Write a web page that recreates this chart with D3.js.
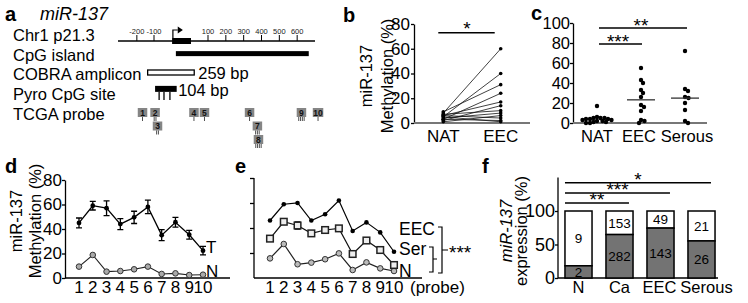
<!DOCTYPE html>
<html><head><meta charset="utf-8">
<script src="https://cdn.jsdelivr.net/npm/d3@7"></script>
<style>body{margin:0;background:#fff}svg{display:block;font-family:"Liberation Sans",Arial,Helvetica,sans-serif}</style>
</head><body><svg id="c" width="748" height="303"></svg>
<script>
// ---------- DATA ----------
// panel a
const aRows = ["Chr1 p21.3","CpG island","COBRA amplicon","Pyro CpG site","TCGA probe"];
const aTicks = [-200,-100,100,200,300,400,500,600];
const chrSpan = [-310, 700];
const exonSpan = [-33, 37];
const tssPos = [-30, 7];
const cpgIsland = [-19, 665];
const cobraAmp = [-137, 49];
const cobraLabel = "259 bp";
const pyroSpan = [-96, -16];
const pyroSites = [-81, -63, -41];
const pyroLabel = "104 bp";
const probeIds = ["1","2","3","4","5","6","7","8","9","10"];
const probePos = [-167,-96,-87,48,87,333,377,383,624,717];
const probeRow = [0,0,1,0,0,0,1,2,0,0];
const probeLines = [1,2,2,1,1,1,3,4,4,1];
// panel b (paired NAT vs EEC)
const bCats = ["NAT","EEC"];
const bNAT = [8,5,9,3,6,2,7,4,1,6,3,5];
const bEEC = [60,40,31,24,17,14,10,8,6,4,2,1];
const bTicks = [0,20,40,60,80];
// panel c
const cCats = ["NAT","EEC","Serous"];
const cNAT = [17,6,5,5,5,4,4,4,3,3,2,2,1,1,0,0];
const cEEC = [55,43,40,33,30,26,18,16,12,3,2,0];
const cSer = [72,34,32,26,25,20,13,2,0];
const cTicks = [0,20,40,60,80,100];
// panel d
const probes = [1,2,3,4,5,6,7,8,9,10];
const dT = [45,59,57,44,49.5,58,35,45.5,35.3,22.3];
const dTerr = [4,3.5,6,4.5,5,5.5,4.5,4,3.5,3.5];
const dN = [9.3,18.8,5.2,5.7,7.1,9.3,3.3,3.8,2.4,2.7];
const dTicks = [0,20,40,60,80];
// panel e
const eEEC = [46,59,60,46,51,62,37.6,44.5,36.5,21];
const eSer = [31.5,45,42,35.7,38.4,39.7,19.2,30,22.4,10.4];
const eSerErr = [0,1.5,3,1,1,1.5,0,0,0,0];
const eN = [15.7,27.2,11,12.3,15,19.7,6.4,12.5,7.7,5.6];
// panel f
const fCats = ["N","Ca","EEC","Serous"];
const fLow = [2,282,143,26];
const fHigh = [9,153,49,21];
const fTicks = [0,50,100];

// ---------- DRAW ----------
const svg = d3.select("#c");
const AX = 16.5;

function label(t,x,y){ svg.append("text").attr("x",x).attr("y",y).attr("font-weight","bold").attr("font-size",20).text(t); }
function styleAxis(g, fs){
  g.selectAll("text").attr("font-size",fs).attr("fill","#000").attr("font-family",'"Liberation Sans",Arial,sans-serif');
  g.selectAll("path,line").attr("stroke","#000").attr("stroke-width",1.3);
}
function vlabel(lines, cy){
  lines.forEach(l=>{
    svg.append("text").attr("transform",`translate(${l.x},${cy}) rotate(-90)`)
      .attr("text-anchor","middle").attr("font-size",l.fs||AX).attr("font-style",l.italic?"italic":null).text(l.t);
  });
}
function stars(t,x,y){ svg.append("text").attr("x",x).attr("y",y).attr("text-anchor","middle").attr("font-size",19).text(t); }

// ===== panel a =====
label("a",5,21);
svg.append("text").attr("x",40).attr("y",20).attr("font-size",18).attr("font-style","italic").text("miR-137");
const xA = d3.scaleLinear().domain([-310,-100,100,700]).range([118,154,208,315]);
const rowY = d3.scalePoint().domain(aRows).range([41,119.5]);
svg.append("g").selectAll("text").data(aRows).join("text")
  .attr("x",13).attr("y",d=>rowY(d)).attr("font-size",16.5).text(d=>d);
const ga = svg.append("g");
const yChr = rowY(aRows[0]);
ga.append("line").attr("x1",xA(chrSpan[0])).attr("x2",xA(chrSpan[1])).attr("y1",yChr).attr("y2",yChr).attr("stroke","#000").attr("stroke-width",1.5);
ga.selectAll(".tk").data(aTicks).join("line").attr("x1",d=>xA(d)).attr("x2",d=>xA(d)).attr("y1",yChr-6).attr("y2",yChr).attr("stroke","#000").attr("stroke-width",1);
ga.selectAll(".tl").data(aTicks).join("text").attr("x",d=>xA(d)).attr("y",yChr-7).attr("text-anchor","middle").attr("font-size",7.5).attr("fill","#222").text(d=>d);
ga.append("rect").attr("x",xA(exonSpan[0])).attr("width",xA(exonSpan[1])-xA(exonSpan[0])).attr("y",yChr-3).attr("height",6).attr("fill","#000");
ga.append("path").attr("d",`M${xA(tssPos[0])},${yChr-3}V${yChr-11}H${xA(-12)}`).attr("stroke","#000").attr("fill","none").attr("stroke-width",1.2);
ga.append("path").attr("d",`M${xA(-12)},${yChr-14.5}L${xA(tssPos[1])},${yChr-11}L${xA(-12)},${yChr-7.5}Z`).attr("fill","#000");
const yCpg = rowY(aRows[1]) - 7;
ga.append("rect").attr("x",xA(cpgIsland[0])).attr("width",xA(cpgIsland[1])-xA(cpgIsland[0])).attr("y",yCpg-2.5).attr("height",5).attr("fill","#000");
const yCob = rowY(aRows[2]) - 7.75;
ga.append("rect").attr("x",xA(cobraAmp[0])).attr("width",xA(cobraAmp[1])-xA(cobraAmp[0])).attr("y",yCob-2.5).attr("height",5).attr("fill","#fff").attr("stroke","#000").attr("stroke-width",1.3);
ga.append("text").attr("x",xA(cobraAmp[1])+4).attr("y",rowY(aRows[2])-1.5).attr("font-size",16.5).text(cobraLabel);
const yPy = rowY(aRows[3]) - 11;
ga.append("rect").attr("x",xA(pyroSpan[0])).attr("width",xA(pyroSpan[1])-xA(pyroSpan[0])).attr("y",yPy-3).attr("height",6).attr("fill","#000");
ga.selectAll(".ps").data(pyroSites).join("line").attr("x1",d=>xA(d)).attr("x2",d=>xA(d)).attr("y1",yPy+3).attr("y2",yPy+11).attr("stroke","#000").attr("stroke-width",1.3);
ga.append("text").attr("x",xA(pyroSpan[1])+1.5).attr("y",rowY(aRows[3])-3.4).attr("font-size",16.5).text(pyroLabel);
const yPr = rowY(aRows[4]) - 11.5;
probeIds.forEach((id,i)=>{
  const cx = xA(probePos[i]), y0 = yPr + probeRow[i]*13.5, w = id.length>1?10.5:9.5;
  ga.append("rect").attr("x",cx-w/2).attr("y",y0).attr("width",w).attr("height",9).attr("fill","#858585");
  ga.append("text").attr("x",cx).attr("y",y0+7.8).attr("text-anchor","middle").attr("font-size",8.5).attr("font-weight","bold").attr("fill","#111").text(id);
  const n = probeLines[i];
  for(let k=0;k<n;k++){
    const lx = cx - (n-1)*0.9 + k*1.8;
    ga.append("line").attr("x1",lx).attr("x2",lx).attr("y1",y0+9).attr("y2",y0+13).attr("stroke","#222").attr("stroke-width",0.8);
  }
});

// ===== panel b =====
label("b",343,22);
const yB = d3.scaleLinear().domain([0,80]).range([123,24]);
const xB = d3.scalePoint().domain(bCats).range([414,530]).padding(0.51);
const gbA = svg.append("g").attr("transform","translate(414,0)").call(d3.axisLeft(yB).tickValues(bTicks).tickSize(3).tickSizeOuter(0).tickPadding(1));
styleAxis(gbA, AX+0.5);
svg.append("line").attr("x1",414).attr("x2",530).attr("y1",yB(0)).attr("y2",yB(0)).attr("stroke","#777").attr("stroke-width",1.8);
svg.selectAll(".bx").data(bCats).join("text").attr("x",d=>xB(d)).attr("y",142).attr("text-anchor","middle").attr("font-size",AX+0.5).text(d=>d);
vlabel([{t:"miR-137",x:372},{t:"Methylation (%)",x:393}],76);
const gb = svg.append("g");
bNAT.forEach((v,i)=>{
  gb.append("line").attr("x1",xB("NAT")).attr("y1",yB(v)).attr("x2",xB("EEC")).attr("y2",yB(bEEC[i])).attr("stroke","#111").attr("stroke-width",0.8);
});
gb.selectAll(".pn").data(bNAT).join("circle").attr("cx",xB("NAT")).attr("cy",d=>yB(d)).attr("r",1.8).attr("fill","#000");
gb.selectAll(".pe").data(bEEC).join("circle").attr("cx",xB("EEC")).attr("cy",d=>yB(d)).attr("r",1.8).attr("fill","#000");
svg.append("line").attr("x1",xB("NAT")-5).attr("x2",xB("EEC")-6).attr("y1",yB(73)).attr("y2",yB(73)).attr("stroke","#000").attr("stroke-width",1.5);
stars("*",(xB("NAT")+xB("EEC"))/2-5,yB(73)+2);

// ===== panel c =====
label("c",531,20);
const yC = d3.scaleLinear().domain([0,100]).range([123,23]);
const xC = d3.scalePoint().domain(cCats).range([573,709]).padding(0.545);
const gcA = svg.append("g").attr("transform","translate(573,0)").call(d3.axisLeft(yC).tickValues(cTicks).tickSize(3).tickSizeOuter(0).tickPadding(0));
styleAxis(gcA, AX);
svg.append("line").attr("x1",573).attr("x2",707).attr("y1",yC(0)).attr("y2",yC(0)).attr("stroke","#777").attr("stroke-width",1.8);
svg.selectAll(".cx").data(cCats).join("text").attr("x",(d,i)=>xC(d)+[0,-2,2][i]).attr("y",142).attr("text-anchor","middle").attr("font-size",AX).text(d=>d);
function swarm(vals, cx, r, minD){
  const placed=[], out=[];
  vals.forEach(v=>{
    const y=yC(v); let off=0;
    for(let k=0;k<200;k++){
      const o = (k%2?1:-1)*Math.ceil(k/2)*0.5;
      if(placed.every(p=>Math.hypot(p.x-o,p.y-y)>=minD)){off=o;break;}
    }
    placed.push({x:off,y}); out.push({x:cx+off,y});
  });
  return out;
}
[[cNAT,"NAT"],[cEEC,"EEC"],[cSer,"Serous"]].forEach(([vals,c])=>{
  const pts = swarm(vals,xC(c),2.2,3.6);
  svg.append("g").selectAll("circle").data(pts).join("circle").attr("cx",d=>d.x).attr("cy",d=>d.y).attr("r",2.2).attr("fill","#000");
  if(c!=="NAT"){
    const m = d3.mean(vals);
    svg.append("line").attr("x1",xC(c)-14).attr("x2",xC(c)+14).attr("y1",yC(m)).attr("y2",yC(m)).attr("stroke","#333").attr("stroke-width",1.3);
  }
});
svg.append("line").attr("x1",xC("NAT")+2).attr("x2",xC("Serous")+2).attr("y1",yC(95)).attr("y2",yC(95)).attr("stroke","#000").attr("stroke-width",1.5);
stars("**",(xC("NAT")+xC("Serous"))/2,yC(95)+4);
svg.append("line").attr("x1",xC("NAT")+2).attr("x2",xC("EEC")+1).attr("y1",yC(79)).attr("y2",yC(79)).attr("stroke","#000").attr("stroke-width",1.5);
stars("***",(xC("NAT")+xC("EEC"))/2-1,yC(79)+4);

// ===== panel d =====
label("d",5,173);
const yD = d3.scaleLinear().domain([0,80]).range([278,180]);
const xD = d3.scaleLinear().domain([1,10]).range([79,203]);
const gdA = svg.append("g").attr("transform","translate(65,0)").call(d3.axisLeft(yD).tickValues(dTicks).tickSize(3).tickSizeOuter(0).tickPadding(0));
styleAxis(gdA, AX+0.5);
svg.append("line").attr("x1",65).attr("x2",230).attr("y1",yD(0)).attr("y2",yD(0)).attr("stroke","#000").attr("stroke-width",1.3);
svg.selectAll(".dx").data(probes).join("text").attr("x",d=>xD(d)).attr("y",293).attr("text-anchor","middle").attr("font-size",AX+0.5).text(d=>d);
vlabel([{t:"miR-137",x:22},{t:"Methylation (%)",x:41}],221);
const ln = d3.line();
svg.append("path").attr("d",ln(probes.map((p,i)=>[xD(p),yD(dN[i])]))).attr("fill","none").attr("stroke","#222").attr("stroke-width",1.1);
svg.append("g").selectAll("circle").data(dN).join("circle").attr("cx",(d,i)=>xD(probes[i])).attr("cy",d=>yD(d)).attr("r",2.8).attr("fill","#aaa").attr("stroke","#333").attr("stroke-width",1);
svg.append("path").attr("d",ln(probes.map((p,i)=>[xD(p),yD(dT[i])]))).attr("fill","none").attr("stroke","#000").attr("stroke-width",1.3);
dT.forEach((v,i)=>{
  const x=xD(probes[i]), e=dTerr[i];
  svg.append("path").attr("d",`M${x},${yD(v-e)}V${yD(v+e)}M${x-3},${yD(v-e)}H${x+3}M${x-3},${yD(v+e)}H${x+3}`).attr("stroke","#000").attr("stroke-width",1.3).attr("fill","none");
});
svg.append("g").selectAll("circle").data(dT).join("circle").attr("cx",(d,i)=>xD(probes[i])).attr("cy",d=>yD(d)).attr("r",2.4).attr("fill","#000");
svg.append("text").attr("x",206).attr("y",253).attr("font-size",AX+0.5).text("T");
svg.append("text").attr("x",206).attr("y",277).attr("font-size",AX+0.5).text("N");

// ===== panel e =====
label("e",235,173);
const yE = d3.scaleLinear().domain([0,80]).range([278,178]);
const xE = d3.scaleLinear().domain([1,10]).range([270,394]);
const geA = svg.append("g").attr("transform","translate(254,0)").call(d3.axisLeft(yE).tickValues([20,40,60,80]).tickSize(4).tickSizeOuter(0).tickFormat(""));
styleAxis(geA, AX);
geA.select(".domain").attr("d",`M-0,${yE(80)}V${yE(0)}`);
svg.append("line").attr("x1",254).attr("x2",422).attr("y1",yE(0)).attr("y2",yE(0)).attr("stroke","#000").attr("stroke-width",1.3);
svg.selectAll(".ex").data(probes).join("text").attr("x",d=>xE(d)).attr("y",293).attr("text-anchor","middle").attr("font-size",AX+0.5).text(d=>d);
svg.append("text").attr("x",410).attr("y",293).attr("font-size",AX+0.5).text("(probe)");
function series(vals, stroke){
  svg.append("path").attr("d",ln(probes.map((p,i)=>[xE(p),yE(vals[i])]))).attr("fill","none").attr("stroke",stroke).attr("stroke-width",1.2);
}
series(eN,"#222"); series(eSer,"#111"); series(eEEC,"#000");
eSer.forEach((v,i)=>{ const e=eSerErr[i]; if(e>0){ const x=xE(probes[i]);
  svg.append("path").attr("d",`M${x},${yE(v-e)}V${yE(v+e)}M${x-3},${yE(v-e)}H${x+3}M${x-3},${yE(v+e)}H${x+3}`).attr("stroke","#000").attr("stroke-width",1.2).attr("fill","none");}});
svg.append("g").selectAll("circle").data(eN).join("circle").attr("cx",(d,i)=>xE(probes[i])).attr("cy",d=>yE(d)).attr("r",2.8).attr("fill","#bbb").attr("stroke","#333").attr("stroke-width",1);
svg.append("g").selectAll("rect").data(eSer).join("rect").attr("x",(d,i)=>xE(probes[i])-3.3).attr("y",d=>yE(d)-3.3).attr("width",6.6).attr("height",6.6).attr("fill","#eee").attr("stroke","#222").attr("stroke-width",1.5);
svg.append("g").selectAll("circle").data(eEEC).join("circle").attr("cx",(d,i)=>xE(probes[i])).attr("cy",d=>yE(d)).attr("r",2.3).attr("fill","#000");
svg.append("text").attr("x",399).attr("y",235).attr("font-size",AX+1).text("EEC");
svg.append("text").attr("x",399).attr("y",255).attr("font-size",AX+1).text("Ser");
svg.append("text").attr("x",399).attr("y",277).attr("font-size",AX+1).text("N");
svg.append("path").attr("d","M438,227H442V273H438M442,250H448").attr("fill","none").attr("stroke","#000").attr("stroke-width",1.2);
svg.append("path").attr("d","M429,247H433V272H429M433,259H437").attr("fill","none").attr("stroke","#000").attr("stroke-width",1.2);
svg.append("text").attr("x",449).attr("y",259).attr("font-size",19).text("***");

// ===== panel f =====
label("f",482,173);
const yF = d3.scaleLinear().domain([0,150]).range([278,177.5]);
const xF = d3.scaleBand().domain(fCats).range([558,722]).paddingInner(0.34).paddingOuter(0.17);
const gfA = svg.append("g").attr("transform","translate(558,0)").call(d3.axisLeft(yF).tickValues(fTicks).tickSize(3).tickSizeOuter(0).tickPadding(0));
styleAxis(gfA, AX+1.5);
gfA.select(".domain").attr("d",`M-0,${yF(150)}V${yF(0)}`);
svg.append("line").attr("x1",558).attr("x2",718).attr("y1",yF(0)).attr("y2",yF(0)).attr("stroke","#000").attr("stroke-width",1.3);
vlabel([{t:"miR-137",x:512,italic:true},{t:"expression (%)",x:527}],231);
svg.selectAll(".fx").data(fCats).join("text").attr("x",(d,i)=>xF(d)+xF.bandwidth()/2+[0,0,-1,5][i]).attr("y",293).attr("text-anchor","middle").attr("font-size",AX).text(d=>d);
fCats.forEach((c,i)=>{
  const tot=fLow[i]+fHigh[i], p=fLow[i]/tot*100, x=xF(c), w=xF.bandwidth();
  svg.append("rect").attr("x",x).attr("width",w).attr("y",yF(100)).attr("height",yF(p)-yF(100)).attr("fill","#fff").attr("stroke","#000").attr("stroke-width",1.5);
  svg.append("rect").attr("x",x).attr("width",w).attr("y",yF(p)).attr("height",yF(0)-yF(p)).attr("fill","#737373").attr("stroke","#000").attr("stroke-width",1.5);
  svg.append("text").attr("x",x+w/2).attr("y",(yF(100)+yF(p))/2+4.8).attr("text-anchor","middle").attr("font-size",13.5).text(fHigh[i]);
  svg.append("text").attr("x",x+w/2).attr("y",(yF(p)+yF(0))/2+4.8).attr("text-anchor","middle").attr("font-size",13.5).text(fLow[i]);
});
[["Serous",142,"*"],["EEC",127,"***"],["Ca",112,"**"]].forEach(([t,v,s])=>{
  const x1=xF("N"), x2=xF(t)+xF.bandwidth()*0.85;
  svg.append("line").attr("x1",x1).attr("x2",x2).attr("y1",yF(v)).attr("y2",yF(v)).attr("stroke","#000").attr("stroke-width",1.5);
  stars(s,(x1+x2)/2,yF(v)+3);
});
</script></body></html>
